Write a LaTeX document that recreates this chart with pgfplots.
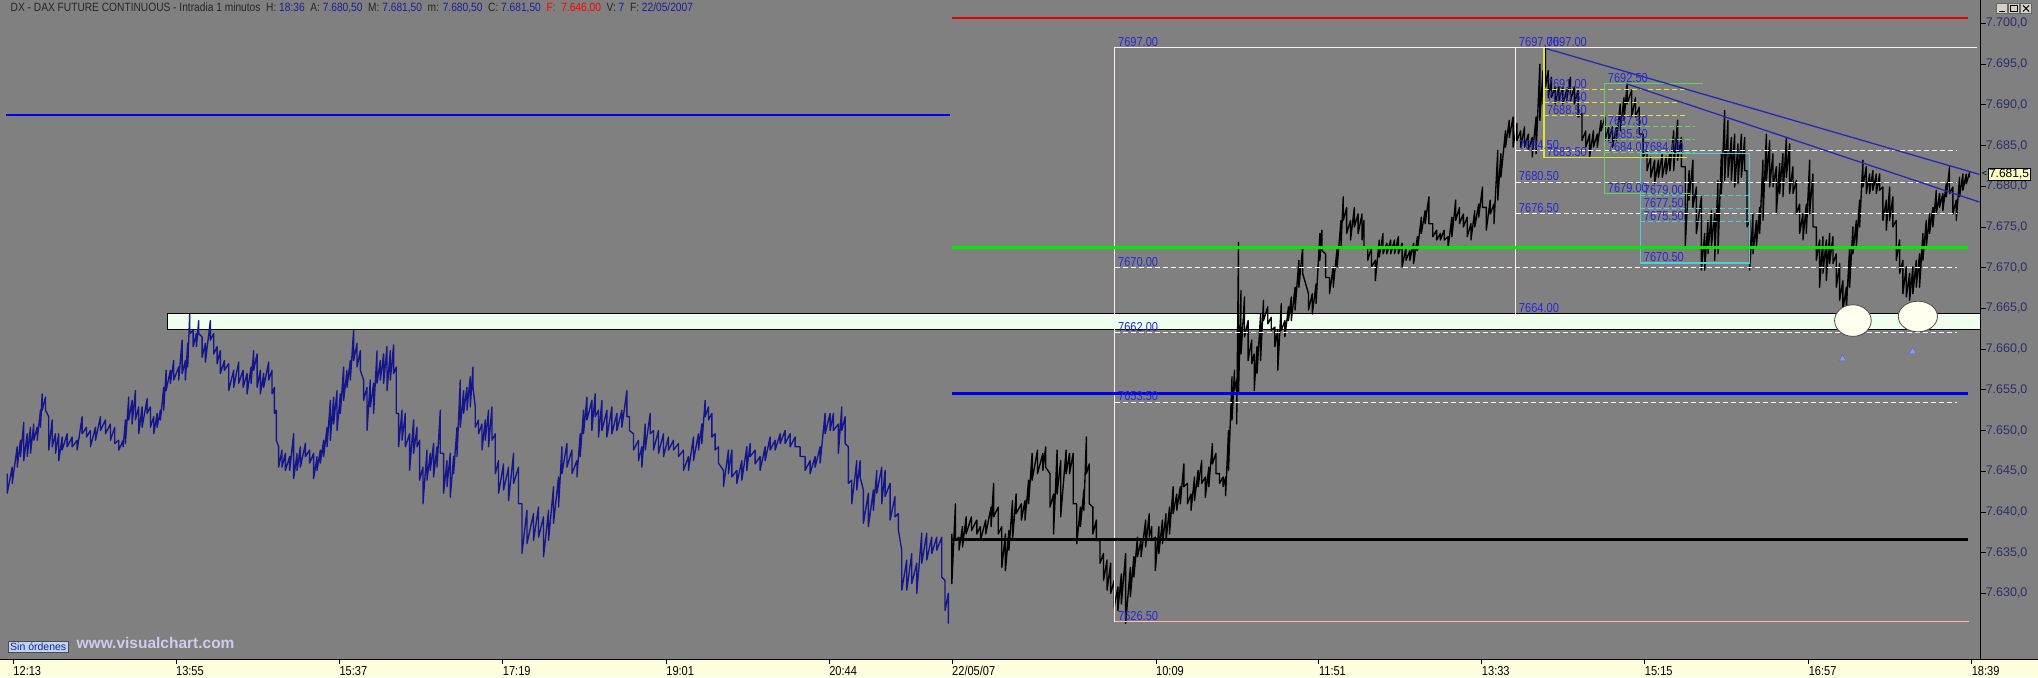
\documentclass[border=0pt]{standalone}
\usepackage{fontspec}
\setmainfont{Liberation Sans}
\newfontfamily\narrowfont[FakeStretch=0.85]{Liberation Sans}
\usepackage{pgfplots}
\pgfplotsset{compat=1.18}
\definecolor{bg}{RGB}{128,128,128}
\definecolor{strip}{RGB}{255,255,222}
\definecolor{barblue}{RGB}{22,22,140}
\definecolor{fibblue}{RGB}{40,40,215}
\definecolor{tickblue}{RGB}{45,45,105}
\definecolor{lineblue}{RGB}{0,0,235}
\definecolor{trendblue}{RGB}{40,40,180}
\definecolor{hgreen}{RGB}{0,235,0}
\definecolor{hred}{RGB}{225,0,0}
\definecolor{fibgreen}{RGB}{100,210,100}
\definecolor{fibyellow}{RGB}{225,225,60}
\definecolor{fibcyan}{RGB}{80,205,215}
\definecolor{boxfill}{RGB}{238,255,238}
\definecolor{pinkline}{RGB}{255,185,185}
\definecolor{whiteline}{RGB}{250,240,240}
\definecolor{valblue}{RGB}{30,30,150}
\definecolor{ivory}{RGB}{255,255,240}
\definecolor{sinfill}{RGB}{190,215,240}
\definecolor{wwwcol}{RGB}{205,205,238}
\definecolor{btn}{RGB}{212,208,200}
\definecolor{pricefill}{RGB}{255,255,200}
\definecolor{arrowblue}{RGB}{140,150,255}
\tikzset{fiblab/.style={anchor=south west, inner sep=1pt, font=\narrowfont\fontsize{13}{13}\selectfont, text=fibblue}}
\begin{document}
\begin{tikzpicture}
\begin{axis}[
  set layers=standard,
  width=1981pt, height=659pt, scale only axis,
  xmin=0, xmax=1981, ymin=7621.92, ymax=7702.81,
  axis line style={draw=none},
  clip=false,
  xtick={12.8,175.5,339,502.5,666,829,952,1156,1319,1482,1645,1809,1972},
  xticklabels={12:13,13:55,15:37,17:19,19:01,20:44,22/05/07,10:09,11:51,13:33,15:15,16:57,18:39},
  xtick pos=bottom,
  ytick={7630,7635,7640,7645,7650,7655,7660,7665,7670,7675,7680,7685,7690,7695,7700},
  yticklabels={{7.630,0},{7.635,0},{7.640,0},{7.645,0},{7.650,0},{7.655,0},{7.660,0},{7.665,0},{7.670,0},{7.675,0},{7.680,0},{7.685,0},{7.690,0},{7.695,0},{7.700,0}},
  ytick pos=right, yticklabel pos=right,
  tick align=outside,
  major tick length=5pt,
  tick style={black, line width=0.8pt},
  x tick label style={anchor=north west, inner sep=0pt, yshift=-2pt, font=\narrowfont\fontsize{13}{13}\selectfont},
  y tick label style={anchor=west, inner sep=0pt, font=\fontsize{12.5}{12.5}\selectfont, text=tickblue},
]
\begin{pgfonlayer}{axis background}
\fill[bg] ([yshift=-18pt]rel axis cs:0,0) rectangle ([xshift=57pt]rel axis cs:1,1);
\fill[strip] ([yshift=-18pt]rel axis cs:0,0) rectangle ([xshift=57pt]rel axis cs:1,0);
\end{pgfonlayer}
% light green zone
\addplot[fill=boxfill, draw=black, line width=1pt] coordinates {(167,7662.45)(1981,7662.45)(1981,7664.35)(167,7664.35)} -- cycle;

% previous session (blue bars)
\addplot[barblue, line width=1.35pt, line join=round] coordinates {
(6.7,7644.7)(6.7,7642.3)(11.7,7645.5)(11.7,7643.5)(16.7,7648.0)(16.7,7645.5)(20,7648.8)(20,7646.8)(23.3,7651.0)(23.3,7646.3)(26.7,7649.6)(26.7,7646.8)(30,7650.4)(30,7647.2)(33.3,7650.8)(33.3,7648.8)(36.7,7650.4)(36.7,7648.8)(40,7652.5)(40,7650.4)(41.7,7654.5)(41.7,7652.5)(45,7654.1)(45,7652.5)(48.3,7651.7)(48.3,7647.6)(51.7,7651.3)(51.7,7648.0)(55,7649.6)(55,7647.2)(58.3,7649.6)(58.3,7646.3)(61.7,7649.2)(61.7,7647.6)(66.7,7649.6)(66.7,7648.0)(71.7,7649.2)(71.7,7648.0)(76.7,7648.8)(76.7,7647.6)(81.7,7651.7)(81.7,7649.6)(86,7650.4)(86,7649.2)(90,7650.0)(90,7648.0)(95,7650.4)(95,7648.8)(100,7651.7)(100,7650.0)(105,7651.3)(105,7649.6)(110,7650.8)(110,7648.8)(114.3,7650.4)(114.3,7648.4)(118.3,7648.8)(118.3,7647.6)(122.7,7648.8)(122.7,7648.0)(125,7651.3)(125,7648.4)(128.3,7654.1)(128.3,7651.3)(131.7,7653.7)(131.7,7650.8)(135,7654.9)(135,7651.3)(138.3,7652.9)(138.3,7649.6)(141.7,7652.9)(141.7,7650.4)(146.7,7653.9)(146.7,7652.1)(150,7652.9)(150,7650.4)(153.3,7651.7)(153.3,7649.6)(156.7,7652.1)(156.7,7650.4)(160,7652.5)(160,7651.3)(163.3,7655.3)(163.3,7652.5)(165.7,7657.4)(165.7,7654.9)(170,7657.4)(170,7655.8)(173.3,7658.6)(173.3,7656.2)(178.3,7657.8)(178.3,7656.2)(181.7,7661.1)(181.7,7657.0)(185,7658.6)(185,7656.2)(187.3,7660.7)(187.3,7657.8)(189.3,7664.3)(189.3,7661.9)(192.7,7662.3)(192.7,7660.3)(196,7661.9)(196,7660.3)(198.3,7663.5)(198.3,7661.9)(201.7,7661.5)(201.7,7659.0)(205,7660.7)(205,7658.4)(210,7663.5)(210,7661.1)(213.3,7661.9)(213.3,7659.4)(216.7,7660.3)(216.7,7658.2)(220,7659.8)(220,7657.0)(224,7658.6)(224,7657.4)(228.3,7658.2)(228.3,7654.9)(233.3,7657.4)(233.3,7655.3)(238.3,7658.4)(238.3,7655.8)(242.7,7657.4)(242.7,7655.3)(246.7,7657.0)(246.7,7654.5)(250.7,7657.8)(250.7,7655.8)(253.3,7659.8)(253.3,7657.4)(256.7,7659.4)(256.7,7655.3)(260,7657.4)(260,7654.5)(263.3,7657.0)(263.3,7655.3)(268.3,7658.4)(268.3,7656.2)(271.7,7657.4)(271.7,7654.5)(274,7655.3)(274,7652.1)(276,7652.5)(276,7648.8)(278.3,7648.0)(278.3,7645.5)(281.7,7647.6)(281.7,7645.5)(285,7647.2)(285,7645.1)(289.3,7646.8)(289.3,7645.1)(293.3,7649.6)(293.3,7644.1)(296.7,7647.2)(296.7,7645.1)(300,7648.0)(300,7645.5)(305,7648.4)(305,7646.8)(309.3,7647.6)(309.3,7646.0)(313.3,7647.2)(313.3,7644.1)(316.7,7646.8)(316.7,7645.1)(320,7647.6)(320,7646.0)(323.3,7648.8)(323.3,7646.8)(326.7,7650.4)(326.7,7648.0)(330,7653.7)(330,7648.8)(333.3,7654.1)(333.3,7650.8)(336.7,7654.9)(336.7,7650.0)(340,7654.5)(340,7652.1)(343.3,7657.8)(343.3,7653.7)(346.7,7657.4)(346.7,7655.3)(350,7658.6)(350,7656.2)(353.3,7662.3)(353.3,7658.6)(356.7,7660.7)(356.7,7657.8)(360,7659.8)(360,7657.4)(363.3,7656.2)(363.3,7653.7)(366.7,7655.3)(366.7,7650.0)(370,7656.2)(370,7652.9)(373.3,7655.8)(373.3,7652.1)(376.7,7659.8)(376.7,7655.8)(380,7658.6)(380,7656.2)(383.3,7659.4)(383.3,7655.8)(386.7,7660.3)(386.7,7654.9)(390,7659.8)(390,7656.2)(393.3,7660.5)(393.3,7657.0)(396,7657.8)(396,7652.1)(398.3,7652.1)(398.3,7648.0)(401.7,7652.5)(401.7,7648.8)(405,7652.1)(405,7648.0)(409.3,7649.6)(409.3,7645.1)(413.3,7651.3)(413.3,7647.2)(416.7,7650.4)(416.7,7648.0)(419.3,7648.8)(419.3,7643.9)(422.7,7645.5)(422.7,7641.0)(426.7,7647.6)(426.7,7643.9)(430,7647.2)(430,7645.1)(433.3,7648.4)(433.3,7644.3)(436.7,7648.0)(436.7,7645.5)(440,7652.5)(440,7647.2)(443.3,7647.2)(443.3,7642.3)(446.7,7646.3)(446.7,7643.1)(450,7647.2)(450,7641.8)(453.3,7646.8)(453.3,7644.7)(456.7,7650.4)(456.7,7646.8)(460,7656.2)(460,7650.4)(463.3,7654.9)(463.3,7652.1)(466.7,7655.3)(466.7,7652.5)(470,7656.6)(470,7652.9)(472.7,7657.8)(472.7,7655.3)(475,7652.9)(475,7650.4)(478.3,7651.3)(478.3,7649.6)(481.7,7650.8)(481.7,7647.6)(485,7651.3)(485,7648.8)(488.3,7652.5)(488.3,7648.0)(491.7,7652.9)(491.7,7648.8)(495,7649.6)(495,7644.7)(498.3,7646.3)(498.3,7642.3)
(503.3,7645.9)(503.3,7642.7)(508.3,7645.5)(508.3,7641.4)(513.3,7647.2)(513.3,7643.5)(518.3,7645.5)(518.3,7641.0)(521.7,7641.0)(521.7,7634.9)(526.7,7640.2)(526.7,7636.1)(533.3,7639.8)(533.3,7636.5)(538.3,7640.6)(538.3,7636.9)(543.3,7639.4)(543.3,7634.5)(548.3,7640.2)(548.3,7636.5)(553.3,7643.1)(553.3,7638.6)(558.3,7644.3)(558.3,7640.6)(561.7,7648.0)(561.7,7644.7)(566.7,7648.4)(566.7,7645.5)(571.7,7647.6)(571.7,7644.7)(576.7,7646.3)(576.7,7644.3)(580,7649.6)(580,7646.8)(583.3,7652.5)(583.3,7649.6)(586.7,7654.1)(586.7,7651.3)(591.7,7653.7)(591.7,7650.0)(595,7654.5)(595,7651.7)(598.3,7652.5)(598.3,7649.2)(601.7,7653.7)(601.7,7650.0)(606.7,7652.5)(606.7,7649.2)(611.7,7652.9)(611.7,7649.6)(616.7,7652.1)(616.7,7650.0)(621.7,7652.5)(621.7,7650.4)(626.7,7654.9)(626.7,7651.7)(629.3,7651.7)(629.3,7650.0)(633.3,7649.6)(633.3,7647.6)(638.3,7648.8)(638.3,7646.3)(641.7,7648.0)(641.7,7645.5)(645,7650.8)(645,7647.6)(650,7652.1)(650,7649.6)(653.3,7650.0)(653.3,7647.6)(658.3,7650.0)(658.3,7647.2)(663.3,7649.6)(663.3,7646.8)(668.3,7649.2)(668.3,7647.6)(673.3,7648.8)(673.3,7647.6)(678.3,7648.4)(678.3,7646.8)(683.3,7647.6)(683.3,7645.1)(688.3,7646.8)(688.3,7645.1)(693.3,7649.2)(693.3,7646.3)(698.3,7649.6)(698.3,7647.6)(701.7,7650.8)(701.7,7648.4)(705,7653.7)(705,7651.7)(708.3,7652.9)(708.3,7651.3)(711.7,7652.1)(711.7,7649.2)(715,7649.6)(715,7647.6)(718.3,7648.0)(718.3,7646.0)(723.3,7645.1)(723.3,7643.1)(728.3,7647.6)(728.3,7644.7)(731.7,7647.6)(731.7,7644.3)(736.7,7645.1)(736.7,7643.5)(741.7,7646.3)(741.7,7643.9)(746.7,7648.0)(746.7,7645.1)(750,7648.4)(750,7646.8)(755,7647.6)(755,7645.9)(760,7646.8)(760,7645.1)(765,7648.0)(765,7646.3)(770,7649.2)(770,7647.6)(775,7648.8)(775,7647.6)(780,7649.6)(780,7648.4)(785,7650.0)(785,7648.4)(790,7649.6)(790,7648.0)(795,7649.2)(795,7648.0)(800,7648.0)(800,7646.8)(805,7646.8)(805,7645.1)(810,7646.3)(810,7644.7)(815,7646.8)(815,7645.5)(820,7648.0)(820,7646.0)(825,7652.1)(825,7649.6)(830,7652.1)(830,7650.0)(833.3,7652.1)(833.3,7650.0)(838.3,7650.8)(838.3,7647.2)(841.7,7652.9)(841.7,7650.0)(845,7651.7)(845,7648.4)(848.3,7648.0)(848.3,7643.5)(851.7,7643.9)(851.7,7641.0)(856.7,7646.3)(856.7,7642.7)(860,7646.3)(860,7644.3)(863.3,7642.7)(863.3,7638.6)(868.3,7642.3)(868.3,7638.2)(873.3,7642.7)(873.3,7640.2)(876.7,7645.1)(876.7,7642.3)(881.7,7645.5)(881.7,7641.0)(885,7645.1)(885,7641.9)(890,7643.5)(890,7639.0)(895,7641.9)(895,7639.4)(898.3,7639.8)(898.3,7637.8)(901.7,7635.3)(901.7,7630.4)(906.7,7634.1)(906.7,7630.4)(911.7,7634.9)(911.7,7631.2)(916.7,7633.7)(916.7,7630.0)(921.7,7637.4)(921.7,7633.7)(926.7,7637.4)(926.7,7634.1)(931.7,7636.9)(931.7,7634.9)(936.7,7636.9)(936.7,7635.3)(941.7,7636.9)(941.7,7632.0)(945,7631.6)(945,7627.9)(948.3,7630.0)(948.3,7626.3)
};

% current session (black bars)
\addplot[black, line width=1.35pt, line join=round] coordinates {
(951.8,7637.3)(951.8,7631.2)(955.4,7641.0)(955.4,7636.5)(958.9,7636.9)(958.9,7635.3)(962.5,7638.2)(962.5,7635.7)(966.1,7639.4)(966.1,7637.3)(971.4,7639.4)(971.4,7637.7)(976.8,7639.0)(976.8,7637.3)(980.4,7638.2)(980.4,7636.5)(985.7,7639.0)(985.7,7637.3)(991.1,7640.6)(991.1,7638.2)(993.6,7643.5)(993.6,7639.4)(998.2,7640.6)(998.2,7637.3)(1001.8,7638.2)(1001.8,7633.2)(1005.4,7637.3)(1005.4,7632.8)(1008.9,7637.7)(1008.9,7635.3)(1012.5,7641.4)(1012.5,7636.5)(1016.1,7642.2)(1016.1,7639.8)(1021.4,7641.0)(1021.4,7639.0)(1025,7641.4)(1025,7639.0)(1028.6,7643.9)(1028.6,7641.0)(1032.1,7647.2)(1032.1,7643.9)(1037.5,7647.6)(1037.5,7644.7)(1042.9,7647.2)(1042.9,7645.1)(1045.7,7648.0)(1045.7,7645.5)(1050,7644.7)(1050,7640.6)(1053.6,7642.2)(1053.6,7637.3)(1057.1,7647.6)(1057.1,7642.2)(1060.7,7646.3)(1060.7,7639.4)(1066.1,7647.6)(1066.1,7644.7)(1069.6,7647.2)(1069.6,7644.7)(1073.2,7647.2)(1073.2,7641.0)(1076.8,7641.0)(1076.8,7636.1)(1080.4,7640.6)(1080.4,7638.2)(1083.9,7642.7)(1083.9,7640.2)(1086.4,7649.2)(1086.4,7644.7)(1089.3,7645.9)(1089.3,7641.0)(1092.9,7640.6)(1092.9,7637.3)(1096.4,7639.0)(1096.4,7636.5)(1100,7636.5)(1100,7633.7)(1103.6,7634.9)(1103.6,7631.6)(1107.1,7634.1)(1107.1,7630.4)(1110.7,7633.7)(1110.7,7630.0)(1114.3,7631.6)(1114.3,7628.3)(1117.9,7630.8)(1117.9,7627.9)(1121.4,7632.4)(1121.4,7628.7)(1125.7,7634.9)(1125.7,7626.3)(1130.4,7633.2)(1130.4,7629.6)(1133.9,7634.5)(1133.9,7632.0)(1137.5,7636.9)(1137.5,7634.5)(1141.1,7636.5)(1141.1,7634.5)(1145.7,7639.0)(1145.7,7635.7)(1149.3,7639.8)(1149.3,7636.9)(1151.8,7638.2)(1151.8,7636.5)(1155.4,7636.9)(1155.4,7632.8)(1158.9,7638.2)(1158.9,7634.9)(1162.5,7639.0)(1162.5,7636.1)(1166.1,7639.8)(1166.1,7636.5)(1169.6,7640.6)(1169.6,7637.3)(1173.2,7643.1)(1173.2,7639.8)(1176.8,7642.2)(1176.8,7640.2)(1180.4,7643.1)(1180.4,7641.0)(1183.9,7645.9)(1183.9,7643.1)(1187.5,7643.5)(1187.5,7641.0)(1191.1,7642.2)(1191.1,7640.2)(1194.6,7644.3)(1194.6,7641.4)(1198.2,7645.1)(1198.2,7643.1)(1201.8,7646.3)(1201.8,7643.5)(1205.4,7644.3)(1205.4,7641.8)(1208.9,7645.5)(1208.9,7643.1)(1212.5,7648.4)(1212.5,7645.9)(1216.1,7647.2)(1216.1,7644.7)(1219.6,7644.7)(1219.6,7643.5)(1223.2,7644.3)(1223.2,7643.1)(1225.7,7644.3)(1225.7,7642.0)(1228.6,7650.0)(1228.6,7645.1)(1232.1,7656.6)(1232.1,7651.3)(1234.6,7657.4)(1234.6,7654.9)(1236.8,7656.2)(1236.8,7650.8)(1238.6,7673.1)(1238.6,7654.5)(1241.1,7667.2)(1241.1,7659.4)(1244.6,7666.4)(1244.6,7661.5)(1248.2,7663.5)(1248.2,7658.6)(1251.8,7661.1)(1251.8,7658.2)(1254.3,7659.4)(1254.3,7654.9)(1257.1,7660.3)(1257.1,7657.0)(1260.7,7664.3)(1260.7,7658.6)(1263.6,7666.0)(1263.6,7663.5)(1267.9,7665.2)(1267.9,7663.1)(1271.4,7663.9)(1271.4,7662.3)(1275,7662.7)(1275,7660.3)(1277.9,7662.3)(1277.9,7657.4)(1281.4,7665.6)(1281.4,7662.3)(1285,7663.5)(1285,7661.5)(1288.6,7665.2)(1288.6,7663.5)
(1291.4,7666.4)(1291.4,7663.5)(1295.2,7667.6)(1295.2,7664.8)(1299,7670.9)(1299,7667.6)(1302.8,7672.5)(1302.8,7669.3)(1308.6,7666.8)(1308.6,7664.8)(1312.4,7666.8)(1312.4,7664.3)(1316.2,7668.0)(1316.2,7665.6)(1320,7674.2)(1320,7670.9)(1322,7674.6)(1322,7672.1)(1325.8,7671.7)(1325.8,7668.8)(1329.6,7668.8)(1329.6,7666.8)(1333.4,7670.1)(1333.4,7667.6)(1337.3,7672.5)(1337.3,7670.1)(1341.1,7675.8)(1341.1,7672.5)(1343.4,7678.7)(1343.4,7675.8)(1346.8,7677.4)(1346.8,7674.2)(1350.7,7675.8)(1350.7,7673.4)(1354.5,7677.4)(1354.5,7675.0)(1358.3,7676.6)(1358.3,7674.2)(1362.2,7676.6)(1362.2,7673.4)(1364.1,7675.8)(1364.1,7672.5)(1367.9,7672.5)(1367.9,7670.9)(1371.7,7672.5)(1371.7,7670.1)(1375.5,7670.9)(1375.5,7668.4)(1379.4,7673.4)(1379.4,7671.3)(1383.2,7674.2)(1383.2,7671.7)(1387,7673.0)(1387,7671.7)(1390.9,7673.4)(1390.9,7671.7)(1394.7,7673.4)(1394.7,7671.7)(1398.5,7673.8)(1398.5,7671.7)(1402.3,7673.0)(1402.3,7670.1)(1406.2,7672.5)(1406.2,7670.9)(1410,7672.1)(1410,7670.9)(1413.8,7673.0)(1413.8,7670.5)(1417.6,7673.8)(1417.6,7672.1)(1421.5,7676.2)(1421.5,7674.2)(1425.3,7677.0)(1425.3,7675.4)(1429.1,7678.7)(1429.1,7675.4)(1433,7675.4)(1433,7673.8)(1436.8,7674.6)(1436.8,7673.4)(1440.6,7674.2)(1440.6,7673.4)(1444.4,7674.6)(1444.4,7673.4)(1448.3,7673.8)(1448.3,7672.5)(1452.1,7676.2)(1452.1,7673.8)(1455.9,7678.3)(1455.9,7675.8)(1459.7,7677.4)(1459.7,7675.4)(1463.6,7676.6)(1463.6,7675.0)(1467.4,7676.2)(1467.4,7673.8)(1471.2,7675.4)(1471.2,7673.4)(1475,7677.0)(1475,7675.0)(1478.9,7677.8)(1478.9,7676.2)(1482.7,7679.9)(1482.7,7677.4)(1486.5,7677.4)(1486.5,7674.6)(1490.4,7678.3)(1490.4,7676.6)(1494.2,7677.8)(1494.2,7675.4)(1498,7684.4)(1498,7678.3)(1501.1,7684.0)(1501.1,7681.1)(1505.7,7686.8)(1505.7,7684.8)(1509.5,7688.1)(1509.5,7686.0)(1513.3,7688.5)(1513.3,7684.8)(1517.1,7687.7)(1517.1,7685.6)(1521,7686.8)(1521,7684.8)(1524.8,7687.3)(1524.8,7684.8)(1528.6,7686.4)(1528.6,7684.4)(1532.5,7686.0)(1532.5,7683.6)(1536.3,7688.5)(1536.3,7684.0)(1540.1,7695.0)(1540.1,7688.1)(1543.2,7694.2)(1543.2,7690.1)(1545.8,7697.1)(1545.8,7692.2)(1548.5,7694.2)(1548.5,7690.9)(1551.6,7693.4)(1551.6,7690.9)(1555.4,7692.2)(1555.4,7690.1)(1559.2,7692.2)(1559.2,7690.5)(1563.1,7692.2)(1563.1,7690.1)(1566.9,7691.8)(1566.9,7690.5)(1570.7,7693.4)(1570.7,7690.5)(1574.6,7692.2)(1574.6,7690.1)(1578.4,7691.8)(1578.4,7688.5)(1582.2,7688.9)(1582.2,7685.6)(1586,7686.8)(1586,7684.8)(1589.9,7686.4)(1589.9,7683.6)(1593.7,7686.8)(1593.7,7684.8)(1597.5,7686.4)(1597.5,7684.8)(1601.3,7688.1)(1601.3,7686.8)(1605.2,7688.5)(1605.2,7685.6)(1609,7687.3)(1609,7685.6)(1612.8,7687.3)(1612.8,7684.8)(1616.6,7687.3)(1616.6,7685.6)(1620.5,7690.1)(1620.5,7686.8)(1624.3,7690.9)(1624.3,7688.1)(1627.4,7692.6)(1627.4,7690.1)(1632,7691.8)(1632,7688.5)(1635.8,7690.9)(1635.8,7688.5)(1639.6,7689.7)(1639.6,7686.4)(1643.4,7686.4)(1643.4,7683.6)(1647.3,7684.4)(1647.3,7681.9)(1651.1,7683.6)(1651.1,7681.1)(1654.9,7683.2)(1654.9,7680.3)(1658.7,7683.2)(1658.7,7681.1)(1662.6,7684.0)(1662.6,7681.1)(1666.4,7683.6)(1666.4,7681.5)(1670.2,7684.0)(1670.2,7681.9)(1674,7686.8)(1674,7681.9)(1677.9,7688.1)(1677.9,7683.2)(1681.7,7686.0)(1681.7,7682.4)(1685.5,7682.4)(1685.5,7672.5)(1689.4,7681.9)(1689.4,7678.3)(1693.2,7683.2)(1693.2,7677.4)
(1696.7,7679.9)(1696.7,7674.2)(1701.7,7678.7)(1701.7,7669.7)(1705,7674.2)(1705,7669.7)(1708.3,7675.8)(1708.3,7671.7)(1711.7,7677.0)(1711.7,7672.5)(1715,7676.6)(1715,7670.9)(1718.3,7680.7)(1718.3,7671.7)(1721.7,7684.0)(1721.7,7679.1)(1725,7689.3)(1725,7680.7)(1728.3,7688.1)(1728.3,7681.1)(1731.7,7686.0)(1731.7,7680.7)(1735,7686.4)(1735,7679.9)(1738.3,7685.2)(1738.3,7680.3)(1741.7,7686.4)(1741.7,7681.1)(1745,7686.0)(1745,7681.9)(1747.3,7681.9)(1747.3,7675.0)(1750,7675.8)(1750,7669.7)(1753.3,7676.6)(1753.3,7671.7)(1756.7,7675.8)(1756.7,7672.5)(1760,7677.4)(1760,7674.2)(1763.3,7683.2)(1763.3,7675.8)(1766.7,7686.4)(1766.7,7680.7)(1770,7685.6)(1770,7679.9)(1773.3,7684.0)(1773.3,7679.9)(1776.7,7682.4)(1776.7,7676.6)(1780,7682.8)(1780,7679.1)(1783.3,7684.0)(1783.3,7678.7)(1786.7,7686.0)(1786.7,7681.1)(1790,7685.2)(1790,7679.1)(1793.3,7682.4)(1793.3,7679.1)(1796.7,7680.7)(1796.7,7676.6)(1800,7677.8)(1800,7674.2)(1803.3,7676.6)(1803.3,7673.4)(1806.7,7677.8)(1806.7,7674.2)(1810,7683.2)(1810,7676.6)(1813.3,7681.5)(1813.3,7675.0)(1816.7,7675.0)(1816.7,7670.9)(1820,7673.4)(1820,7667.6)(1823.3,7673.8)(1823.3,7669.3)(1826.7,7673.4)(1826.7,7668.4)(1830,7674.2)(1830,7670.5)(1833.3,7673.8)(1833.3,7670.5)(1836.7,7671.7)(1836.7,7667.6)(1840,7670.5)(1840,7666.0)(1843.3,7668.4)(1843.3,7664.8)(1846.7,7667.6)(1846.7,7664.8)(1850,7672.5)(1850,7667.6)(1853.3,7675.0)(1853.3,7671.7)(1856.7,7675.8)(1856.7,7672.5)(1860,7678.3)(1860,7675.0)(1863.3,7683.2)(1863.3,7679.9)(1866.7,7682.4)(1866.7,7679.1)(1870,7681.5)(1870,7679.1)(1873.3,7681.9)(1873.3,7679.5)(1876.7,7681.5)(1876.7,7679.1)(1880,7681.5)(1880,7679.5)(1883.3,7679.9)(1883.3,7675.8)(1886.7,7678.3)(1886.7,7674.6)(1890,7679.9)(1890,7675.8)(1893.3,7678.7)(1893.3,7675.0)(1896.7,7675.8)(1896.7,7670.9)(1900,7673.4)(1900,7669.3)(1903.3,7670.9)(1903.3,7666.8)(1906.7,7670.1)(1906.7,7666.4)(1910,7669.3)(1910,7666.0)(1913.3,7670.1)(1913.3,7666.8)(1916.7,7670.9)(1916.7,7667.6)(1920,7671.7)(1920,7667.6)(1923.3,7674.2)(1923.3,7670.9)(1926.7,7675.8)(1926.7,7672.5)(1930,7676.6)(1930,7674.2)(1933.3,7677.4)(1933.3,7675.0)(1936.7,7679.5)(1936.7,7676.6)(1940,7679.1)(1940,7677.4)(1943.3,7679.1)(1943.3,7677.0)(1946.7,7680.3)(1946.7,7678.7)(1950,7682.4)(1950,7679.1)(1953.3,7679.9)(1953.3,7676.6)(1956.7,7678.3)(1956.7,7675.8)(1960,7681.1)(1960,7678.7)(1963.3,7681.5)(1963.3,7679.5)(1966.7,7681.5)(1966.7,7680.3)(1970,7681.7)(1970,7681.1)
};

% Fibonacci set 1 (white / pink)
\addplot[whiteline, line width=1pt] coordinates {(1115,7626.5)(1115,7697)(1977,7697)};
\addplot[pinkline, line width=1.2pt] coordinates {(1115,7626.5)(1969,7626.5)};
\addplot[white, line width=1pt, dash pattern=on 5pt off 3pt] coordinates {(1115,7670)(1957,7670)};
\addplot[white, line width=1pt, dash pattern=on 5pt off 3pt] coordinates {(1115,7662)(1957,7662)};
\addplot[white, line width=1pt, dash pattern=on 5pt off 3pt] coordinates {(1115,7653.5)(1957,7653.5)};
% Fibonacci set 2 (white)
\addplot[whiteline, line width=1pt] coordinates {(1516,7664)(1516,7697)};
\addplot[white, line width=1pt, dash pattern=on 5pt off 3pt] coordinates {(1516,7684.4)(1957,7684.4)};
\addplot[white, line width=1pt, dash pattern=on 5pt off 3pt] coordinates {(1516,7680.5)(1957,7680.5)};
\addplot[white, line width=1pt, dash pattern=on 5pt off 3pt] coordinates {(1516,7676.6)(1957,7676.6)};
% Fibonacci set 3 (yellow)
\addplot[fibyellow, line width=1.2pt] coordinates {(1544.3,7697)(1544.3,7683.5)(1687,7683.5)};
\addplot[fibyellow, line width=1pt, dash pattern=on 5pt off 3pt] coordinates {(1544.3,7691.84)(1687,7691.84)};
\addplot[fibyellow, line width=1pt, dash pattern=on 5pt off 3pt] coordinates {(1544.3,7690.25)(1687,7690.25)};
\addplot[fibyellow, line width=1pt, dash pattern=on 5pt off 3pt] coordinates {(1544.3,7688.66)(1687,7688.66)};
% Fibonacci set 4 (green)
\addplot[fibgreen, line width=1.2pt] coordinates {(1703,7692.58)(1605,7692.58)(1605,7679.08)(1690,7679.08)};
\addplot[fibgreen, line width=1pt, dash pattern=on 5pt off 3pt] coordinates {(1605,7687.34)(1695,7687.34)};
\addplot[fibgreen, line width=1pt, dash pattern=on 5pt off 3pt] coordinates {(1605,7685.75)(1695,7685.75)};
\addplot[fibgreen, line width=1pt, dash pattern=on 5pt off 3pt] coordinates {(1605,7684.16)(1695,7684.16)};
% Fibonacci set 5 (cyan)
\addplot[fibcyan, line width=1.2pt] coordinates {(1640.7,7684.06)(1750,7684.06)(1750,7670.56)(1640.7,7670.56)} -- cycle;
\addplot[fibcyan, line width=1pt, dash pattern=on 5pt off 3pt] coordinates {(1640.7,7678.84)(1750,7678.84)};
\addplot[fibcyan, line width=1pt, dash pattern=on 5pt off 3pt] coordinates {(1640.7,7677.25)(1750,7677.25)};
\addplot[fibcyan, line width=1pt, dash pattern=on 5pt off 3pt] coordinates {(1640.7,7675.66)(1750,7675.66)};

% horizontal levels
\addplot[lineblue, line width=2.6pt] coordinates {(6,7688.75)(950,7688.75)};
\addplot[hred, line width=2.6pt] coordinates {(952,7700.65)(1968,7700.65)};
\addplot[hgreen, line width=2.6pt] coordinates {(952,7672.5)(1968,7672.5)};
\addplot[lineblue, line width=2.6pt] coordinates {(952,7654.55)(1968,7654.55)};
\addplot[black, line width=2.6pt] coordinates {(952,7636.6)(1968,7636.6)};

% trend lines
\addplot[trendblue, line width=1.3pt] coordinates {(1546.7,7696.9)(1980,7681.45)};
\addplot[trendblue, line width=1.3pt] coordinates {(1626.7,7692.58)(1980,7678.05)};

% ellipses and arrows
\addplot[only marks, mark=*, mark size=15.8pt, mark options={fill=ivory, draw=black!70, line width=0.8pt, xscale=1.16}] coordinates {(1853.3,7663.5)};
\addplot[only marks, mark=*, mark size=15.3pt, mark options={fill=ivory, draw=black!70, line width=0.8pt, xscale=1.28}] coordinates {(1918.3,7664.0)};
\addplot[only marks, mark=triangle*, mark size=4pt, mark options={fill=arrowblue, draw=arrowblue!70!black}] coordinates {(1843,7658.8)(1913,7659.7)};

% level labels
\node[fiblab] at (axis cs:1117,7697) {7697.00};
\node[fiblab] at (axis cs:1117,7670) {7670.00};
\node[fiblab] at (axis cs:1117,7662) {7662.00};
\node[fiblab] at (axis cs:1117,7653.5) {7653.50};
\node[fiblab] at (axis cs:1117,7626.5) {7626.50};
\node[fiblab] at (axis cs:1518,7697) {7697.00};
\node[fiblab] at (axis cs:1518,7684.4) {7684.50};
\node[fiblab] at (axis cs:1518,7680.5) {7680.50};
\node[fiblab] at (axis cs:1518,7676.6) {7676.50};
\node[fiblab] at (axis cs:1518,7664.35) {7664.00};
\node[fiblab] at (axis cs:1546,7697) {7697.00};
\node[fiblab] at (axis cs:1546,7691.84) {7691.00};
\node[fiblab] at (axis cs:1546,7690.25) {7690.50};
\node[fiblab] at (axis cs:1546,7688.66) {7688.50};
\node[fiblab] at (axis cs:1546,7683.5) {7683.50};
\node[fiblab] at (axis cs:1607,7692.58) {7692.50};
\node[fiblab] at (axis cs:1607,7687.34) {7687.50};
\node[fiblab] at (axis cs:1607,7685.75) {7685.50};
\node[fiblab] at (axis cs:1607,7684.16) {7684.00};
\node[fiblab] at (axis cs:1607,7679.08) {7679.00};
\node[fiblab] at (axis cs:1643,7684.06) {7684.00};
\node[fiblab] at (axis cs:1643,7678.84) {7679.00};
\node[fiblab] at (axis cs:1643,7677.25) {7677.50};
\node[fiblab] at (axis cs:1643,7675.66) {7675.50};
\node[fiblab] at (axis cs:1643,7670.56) {7670.50};

% frame lines
\draw[black, line width=1pt] (rel axis cs:0,0) -- ([xshift=57pt]rel axis cs:1,0);
\draw[black, line width=1pt] (rel axis cs:1,0) -- (rel axis cs:1,1);

% current price box
\node[anchor=west, inner sep=0pt, font=\fontsize{9}{9}\selectfont] at (axis cs:1982,7681.5) {<};
\node[anchor=west, draw=black, fill=pricefill, inner sep=1.3pt, font=\fontsize{12}{12}\selectfont] at (axis cs:1988,7681.5) {7.681,5};

% title
\node[anchor=west, inner sep=0pt, font=\narrowfont\fontsize{12}{12}\selectfont, text=black!85] at ([xshift=10pt,yshift=-7.5pt]rel axis cs:0,1)
 {DX - DAX FUTURE CONTINUOUS - Intradia 1 minutos\ \ H: \textcolor{valblue}{18:36}\ \ A: \textcolor{valblue}{7.680,50}\ \ M: \textcolor{valblue}{7.681,50}\ \ m: \textcolor{valblue}{7.680,50}\ \ C: \textcolor{valblue}{7.681,50}\ \ \textcolor{red}{F:\ \ 7.646,00}\ \ V: \textcolor{valblue}{7}\ \ F: \textcolor{valblue}{22/05/2007}};
% footer items
\node[anchor=south west, draw=black!70, fill=sinfill, inner sep=1.5pt, font=\fontsize{10.5}{10.5}\selectfont, text=valblue] at ([xshift=8pt,yshift=7pt]rel axis cs:0,0) {Sin órdenes};
\node[anchor=south west, inner sep=0pt, font=\bfseries\fontsize{15.5}{15.5}\selectfont, text=wwwcol] at ([xshift=76pt,yshift=10pt]rel axis cs:0,0) {www.visualchart.com};
% window buttons
\draw[black!60, fill=btn] ([xshift=16pt,yshift=-13pt]rel axis cs:1,1) rectangle ([xshift=27pt,yshift=-3pt]rel axis cs:1,1);
\draw[black!60, fill=btn] ([xshift=28pt,yshift=-13pt]rel axis cs:1,1) rectangle ([xshift=39pt,yshift=-3pt]rel axis cs:1,1);
\draw[black!60, fill=btn] ([xshift=40pt,yshift=-13pt]rel axis cs:1,1) rectangle ([xshift=51pt,yshift=-3pt]rel axis cs:1,1);
\draw[black, line width=1pt] ([xshift=18.5pt,yshift=-11pt]rel axis cs:1,1) -- ([xshift=24.5pt,yshift=-11pt]rel axis cs:1,1);
\draw[black, line width=0.8pt] ([xshift=30pt,yshift=-11pt]rel axis cs:1,1) rectangle ([xshift=37pt,yshift=-5pt]rel axis cs:1,1);
\draw[black, line width=1pt] ([xshift=42.5pt,yshift=-11pt]rel axis cs:1,1) -- ([xshift=48.5pt,yshift=-5pt]rel axis cs:1,1);
\draw[black, line width=1pt] ([xshift=42.5pt,yshift=-5pt]rel axis cs:1,1) -- ([xshift=48.5pt,yshift=-11pt]rel axis cs:1,1);
\end{axis}
\end{tikzpicture}
\end{document}
